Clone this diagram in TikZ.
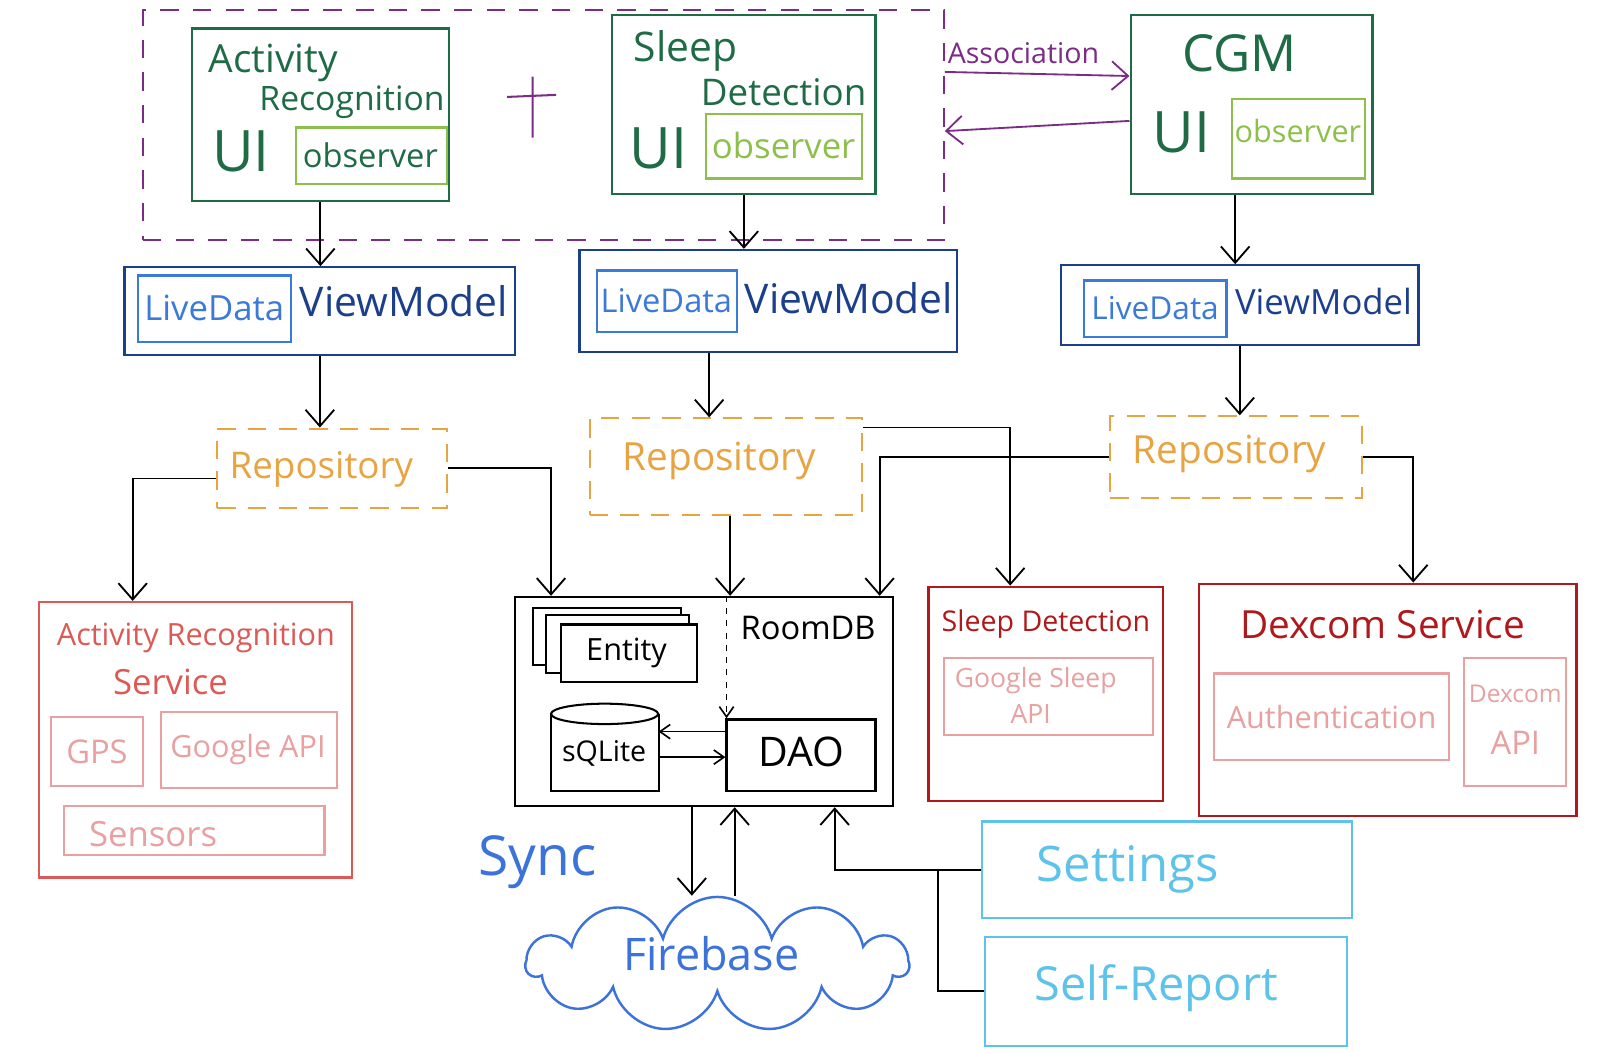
\documentclass[tikz,border=0pt]{standalone}
\usepackage{fontspec}
\setmainfont{Open Sans}
\usetikzlibrary{arrows.meta,fit,shapes.symbols,calc}
\definecolor{dgreen}{HTML}{1F6B45}
\definecolor{lgreen}{HTML}{8DC04A}
\definecolor{purp}{HTML}{7A2C86}
\definecolor{dblue}{HTML}{1C3F8C}
\definecolor{mblue}{HTML}{3B7AD8}
\definecolor{orng}{HTML}{E8A443}
\definecolor{rred}{HTML}{DC5A55}
\definecolor{pinkr}{HTML}{E8A0A0}
\definecolor{dred}{HTML}{B0191C}
\definecolor{sblue}{HTML}{3C73DA}
\definecolor{cyanb}{HTML}{5EC3EA}
\newcommand{\fsz}[1]{\fontsize{#1}{#1}\selectfont}
\begin{document}
\begin{tikzpicture}[x=0.5pt,y=-0.5pt,
  box/.style={draw, line width=1.1pt, inner sep=0pt},
  lbl/.style={inner sep=0pt, anchor=center},
  arr/.style={-{Straight Barb[length=8pt,width=14pt]}, line width=0.9pt, black},
  sarr/.style={-{Straight Barb[length=5pt,width=7pt]}, line width=0.8pt, black},
  repo/.style={box, draw=orng, dash pattern=on 9pt off 6pt, line width=1pt}]
\fill[white] (0,0) rectangle (1568,1031);
\useasboundingbox (0,0) rectangle (1568,1031);

% ---------- UI layer ----------
\node[box, draw=purp, dash pattern=on 9pt off 7pt, line width=0.9pt, fit={(140,10) (925,235)}] (grp) {};
\node[box, draw=dgreen, fit={(188,28) (440,197)}] (arui) {};
\node[box, draw=lgreen, fit={(290,125) (438,180)}] (arobs) {};
\node[lbl, text=dgreen, font=\fsz{19}] (t1) at (268,62) {Activity};
\node[lbl, text=dgreen, font=\fsz{16.5}] (t2) at (345,100) {Recognition};
\node[lbl, text=dgreen, font=\fsz{28}] (t3) at (236,148) {UI};
\node[lbl, text=dgreen, font=\fsz{16}] (t4) at (363,152) {observer};

\draw[purp, line width=1pt] (522,75) -- (522,135) (497,95) -- (545,93);

\node[box, draw=dgreen, fit={(600,15) (858,190)}] (sdui) {};
\node[box, draw=lgreen, fit={(692,112) (845,175)}] (sdobs) {};
\node[lbl, text=dgreen, font=\fsz{20}] (t5) at (672,50) {Sleep};
\node[lbl, text=dgreen, font=\fsz{18}] (t6) at (768,90) {Detection};
\node[lbl, text=dgreen, font=\fsz{28}] (t7) at (645,145) {UI};
\node[lbl, text=lgreen, font=\fsz{17}] (t8) at (768,143) {observer};

\node[box, draw=dgreen, fit={(1108,15) (1345,190)}] (cgmui) {};
\node[box, draw=lgreen, fit={(1207,97) (1338,175)}] (cgmobs) {};
\node[lbl, text=dgreen, font=\fsz{25}] (t9) at (1215,52) {CGM};
\node[lbl, text=dgreen, font=\fsz{28}] (t10) at (1158,130) {UI};
\node[lbl, text=lgreen, font=\fsz{15}] (t11) at (1272,128) {observer};

\node[lbl, text=purp, font=\fsz{14}] (assoc) at (1003,52) {Association};
\draw[arr, purp] ([yshift=16pt]cgmui.west -| grp.east) -- ([yshift=14pt]cgmui.west);
\draw[arr, purp] ([yshift=-8pt]cgmui.west) -- ([yshift=-13pt]cgmui.west -| grp.east);

% ---------- ViewModels ----------
\node[box, draw=dblue, fit={(122,262) (505,348)}] (vm1) {};
\node[box, draw=mblue, fit={(135,270) (285,335)}] (ld1) {};
\node[lbl, text=mblue, font=\fsz{17}] (t12) at (210,302) {LiveData};
\node[lbl, text=dblue, font=\fsz{20}] (t13) at (396,295) {ViewModel};

\node[box, draw=dblue, fit={(568,245) (938,345)}] (vm2) {};
\node[box, draw=mblue, fit={(585,265) (722,325)}] (ld2) {};
\node[lbl, text=mblue, font=\fsz{16}] (t14) at (653,295) {LiveData};
\node[lbl, text=dblue, font=\fsz{20}] (t15) at (832,292) {ViewModel};

\node[box, draw=dblue, fit={(1040,260) (1390,338)}] (vm3) {};
\node[box, draw=mblue, fit={(1062,275) (1202,330)}] (ld3) {};
\node[lbl, text=mblue, font=\fsz{15.5}] (t16) at (1132,302) {LiveData};
\node[lbl, text=dblue, font=\fsz{17}] (t17) at (1297,295) {ViewModel};

\draw[arr] (arui.south) -- (arui.south |- vm1.north);
\draw[arr] (sdui.south) -- (sdui.south |- vm2.north);
\draw[arr] ([xshift=-8pt]cgmui.south) -- ([xshift=-8pt]cgmui.south |- vm3.north);

% ---------- Repositories ----------
\node[repo, fit={(213,420) (438,498)}] (repo1) {};
\node[lbl, text=orng, font=\fsz{18}] (t18) at (315,460) {Repository};
\node[repo, fit={(578,410) (845,505)}] (repo2) {};
\node[lbl, text=orng, font=\fsz{19}] (t19) at (705,452) {Repository};
\node[repo, fit={(1088,408) (1335,488)}] (repo3) {};
\node[lbl, text=orng, font=\fsz{19}] (t20) at (1205,445) {Repository};

\draw[arr] (vm1.south) -- (vm1.south |- repo1.north);
\draw[arr] ([xshift=-29pt]vm2.south) -- ([xshift=-29pt]vm2.south |- repo2.north);
\draw[arr] (vm3.south) -- (vm3.south |- repo3.north);

% ---------- Services ----------
\node[box, draw=rred, fit={(38,590) (345,860)}] (arsvc) {};
\node[lbl, text=rred, font=\fsz{15}] (t21) at (192,625) {Activity Recognition};
\node[lbl, text=rred, font=\fsz{17}] (t22) at (167,668) {Service};
\node[box, draw=pinkr, fit={(50,703) (140,770)}] (gps) {};
\node[lbl, text=pinkr, font=\fsz{16}] (t23) at (95,737) {GPS};
\node[box, draw=pinkr, fit={(158,698) (330,772)}] (gapi) {};
\node[lbl, text=pinkr, font=\fsz{15}] (t24) at (243,735) {Google API};
\node[box, draw=pinkr, fit={(63,790) (318,838)}] (sens) {};
\node[lbl, text=pinkr, font=\fsz{17}] (t25) at (150,817) {Sensors};

% RoomDB
\node[box, draw=black, fit={(505,585) (875,790)}] (room) {};
\node[lbl, font=\fsz{16}] (t26) at (792,615) {RoomDB};
\draw[line width=1pt] (522,596) rectangle (667,652);
\draw[line width=1pt, fill=white] (535,603) rectangle (675,660);
\node[box, draw=black, fill=white, fit={(550,612) (683,668)}] (entity) {};
\node[lbl, font=\fsz{15}] (t27) at (614,640) {Entity};
\node[inner sep=0pt, fit={(540,690) (645,775)}] (sql) {};
\draw[line width=1pt] ([yshift=-5pt]sql.north) ellipse [x radius=26.25pt, y radius=5pt];
\draw[line width=1pt] ([yshift=-5pt]sql.north west) -- (sql.south west) -- (sql.south east) -- ([yshift=-5pt]sql.north east);
\node[lbl, font=\fsz{14}] (t28) at (592,738) {sQLite};
\node[box, draw=black, fit={(712,705) (858,775)}] (dao) {};
\node[lbl, font=\fsz{20}] (t29) at (785,737) {DAO};
\draw[sarr, dashed] ([xshift=11pt]room.north) -- ([xshift=11pt]room.north |- dao.north);
\draw[sarr] ([yshift=11.5pt]dao.west) -- ([yshift=11.5pt]dao.west -| sql.east);
\draw[sarr] ([yshift=-4.75pt]sql.east) -- ([yshift=-4.75pt]sql.east -| dao.west);

% Sleep detection service
\node[box, draw=dred, fit={(910,575) (1140,785)}] (sdsvc) {};
\node[lbl, text=dred, font=\fsz{14}] (t30) at (1025,612) {Sleep Detection};
\node[box, draw=pinkr, fit={(925,645) (1130,720)}] (gsleep) {};
\node[lbl, text=pinkr, font=\fsz{13}] (t31) at (1015,667) {Google Sleep};
\node[lbl, text=pinkr, font=\fsz{13}] (t32) at (1010,700) {API};

% Dexcom service
\node[box, draw=dred, fit={(1175,572) (1545,800)}] (dexsvc) {};
\node[lbl, text=dred, font=\fsz{19}] (t33) at (1355,612) {Dexcom Service};
\node[box, draw=pinkr, fit={(1190,660) (1420,745)}] (auth) {};
\node[lbl, text=pinkr, font=\fsz{15}] (t34) at (1305,703) {Authentication};
\node[box, draw=pinkr, fit={(1435,645) (1535,770)}] (dexapi) {};
\node[lbl, text=pinkr, font=\fsz{12}] (t35) at (1485,680) {Dexcom};
\node[lbl, text=pinkr, font=\fsz{16}] (t36) at (1485,728) {API};

% repository connectors
\draw[arr] ([yshift=-5pt]repo1.west) -| ([xshift=-30.75pt]arsvc.north);
\draw[arr] (repo1.east) -| ([xshift=-75pt]room.north);
\draw[arr] ([xshift=2pt]repo2.south) -- ([xshift=2pt]repo2.south |- room.north);
\draw[arr] ([yshift=-5pt]repo2.north east) -| ([xshift=-17.5pt]sdsvc.north);
\draw[arr] (repo3.west) -| ([xshift=86pt]room.north);
\draw[arr] (repo3.east) -| ([xshift=12.5pt]dexsvc.north);

% ---------- Bottom ----------
\node[cloud, cloud puffs=11, aspect=2.9, draw=sblue, line width=1.2pt, minimum width=187pt, minimum height=66pt, inner sep=0pt] (fb) at (703,945) {};
\node[lbl, text=sblue, font=\fsz{22}] (t37) at (697,935) {Firebase};
\node[lbl, text=sblue, font=\fsz{27}] (t38) at (527,845) {Sync};
\node[box, draw=cyanb, fit={(962,805) (1325,900)}] (settings) {};
\node[lbl, text=cyanb, font=\fsz{24}] (t39) at (1105,852) {Settings};
\node[box, draw=cyanb, fit={(965,918) (1320,1025)}] (selfrep) {};
\node[lbl, text=cyanb, font=\fsz{23}] (t40) at (1133,968) {Self-Report};

\draw[arr] ([xshift=-6pt]room.south) -- ([xshift=-6pt]room.south |- fb.north);
\draw[arr] ([xshift=15pt]room.south |- fb.north) -- ([xshift=15pt]room.south);
\draw[arr] (settings.west) -| ([xshift=64pt]room.south);
\draw[line width=0.9pt] (selfrep.west) -| ([xshift=-21pt]settings.west);
\end{tikzpicture}
\end{document}
